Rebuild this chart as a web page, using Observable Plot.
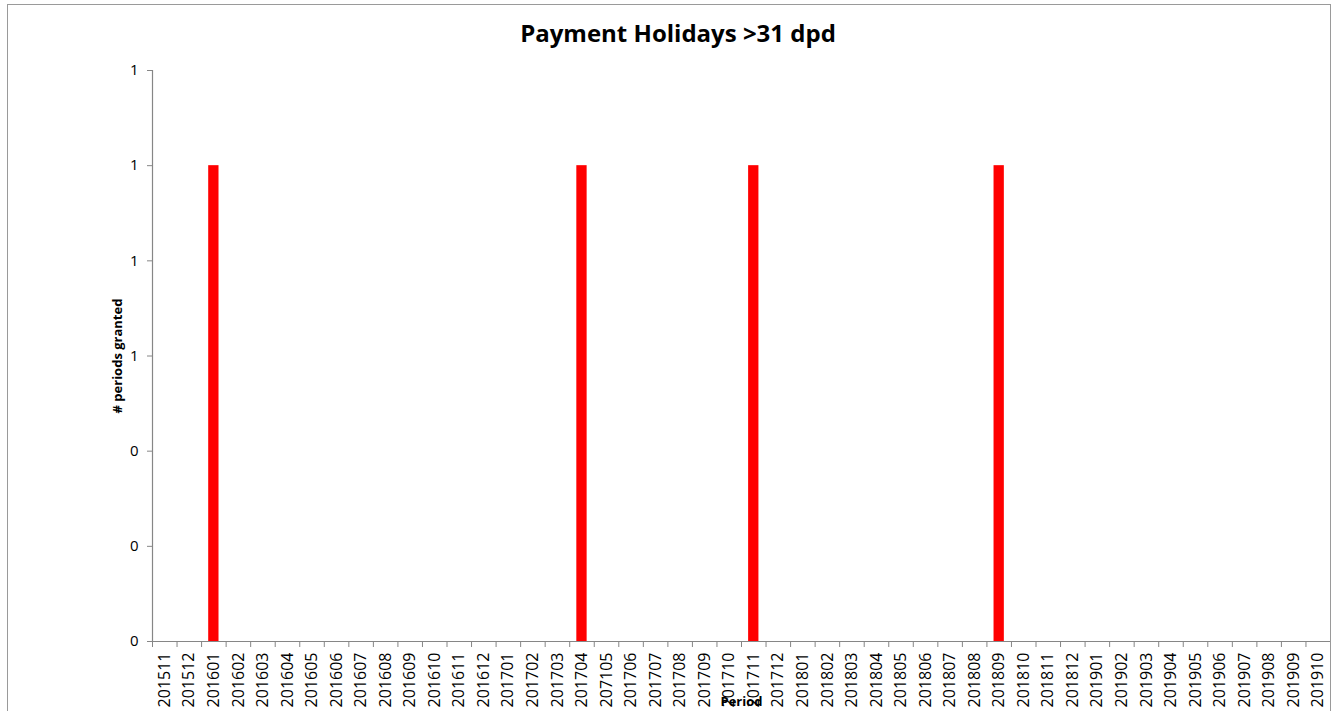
<!DOCTYPE html>
<html>
<head>
<meta charset="utf-8">
<script src="https://cdn.jsdelivr.net/npm/d3@7"></script>
<script src="https://cdn.jsdelivr.net/npm/@observablehq/plot@0.6"></script>
<style>
  html, body { margin: 0; padding: 0; background: #fff; }
  #wrap { position: relative; width: 1333px; height: 711px; overflow: hidden; font-family: "Open Sans", sans-serif; }
  #border { position: absolute; left: 7px; top: 4px; width: 1324px; height: 760px; border: 1px solid #9a9a9a; box-sizing: border-box; }
  #title { position: absolute; top: 16px; left: 0; width: 1356px; text-align: center; font-weight: bold; font-size: 24px; color: #000; }
  #chart { position: absolute; top: 60px; left: 0; }
  #chart svg { overflow: visible; }
  #chart [aria-label="y-axis label"] text { font-weight: bold; font-size: 13px; }
</style>
</head>
<body>
<div id="wrap">
  <div id="border"></div>
  <div id="title">Payment Holidays &gt;31 dpd</div>
  <div id="chart"></div>
</div>
<script>
const periods = ["201511","201512","201601","201602","201603","201604","201605","201606","201607","201608","201609","201610","201611","201612","201701","201702","201703","201704","207105","201706","201707","201708","201709","201710","201711","201712","201801","201802","201803","201804","201805","201806","201807","201808","201809","201810","201811","201812","201901","201902","201903","201904","201905","201906","201907","201908","201909","201910"];
const values = [0,0,1,0,0,0,0,0,0,0,0,0,0,0,0,0,0,1,0,0,0,0,0,0,1,0,0,0,0,0,0,0,0,0,1,0,0,0,0,0,0,0,0,0,0,0,0,0];
const yTicks = [0, 0.2, 0.4, 0.6, 0.8, 1.0, 1.2];
const yLabel = "# periods granted";
const xLabel = "Period";

const data = periods.map((p, i) => ({period: p, value: values[i]}));

const W = 1333, mL = 152, mR = 3;
const step = (W - mL - mR) / periods.length;
const axisColor = "#868686";

const chart = Plot.plot({
  width: W,
  height: 651,
  marginLeft: mL,
  marginRight: mR,
  marginTop: 10,
  marginBottom: 70,
  style: {fontFamily: "Open Sans, sans-serif", fontSize: "14px", color: "#000", background: "transparent"},
  x: {domain: periods, paddingInner: 0.58, paddingOuter: 0.29, round: false, axis: null},
  y: {domain: [0, 1.2], axis: null},
  marks: [
    Plot.barY(data, {x: "period", y: "value", fill: "#ff0000"}),
    Plot.ruleY([0], {stroke: axisColor, strokeWidth: 1.2}),
    Plot.ruleX([periods[0]], {dx: -step / 2, y1: 0, y2: 1.2, stroke: axisColor, strokeWidth: 1.2}),
    Plot.axisX({tickSize: 6, tickFormat: () => "", stroke: axisColor, dx: -step / 2, label: null}),
    Plot.axisX({tickSize: 0, tickPadding: 11, tickRotate: -90, fontSize: 16, label: null}),
    Plot.axisY({
      ticks: yTicks, tickSize: 5, tickPadding: 9, stroke: axisColor,
      tickFormat: d => String(Math.round(d)),
      label: yLabel, labelAnchor: "center", labelArrow: "none", labelOffset: 40, fontSize: 15
    }),
    Plot.text([xLabel], {frameAnchor: "bottom", dy: 64, fontWeight: "bold", fontSize: 13})
  ]
});
document.getElementById("chart").appendChild(chart);
</script>
</body>
</html>
